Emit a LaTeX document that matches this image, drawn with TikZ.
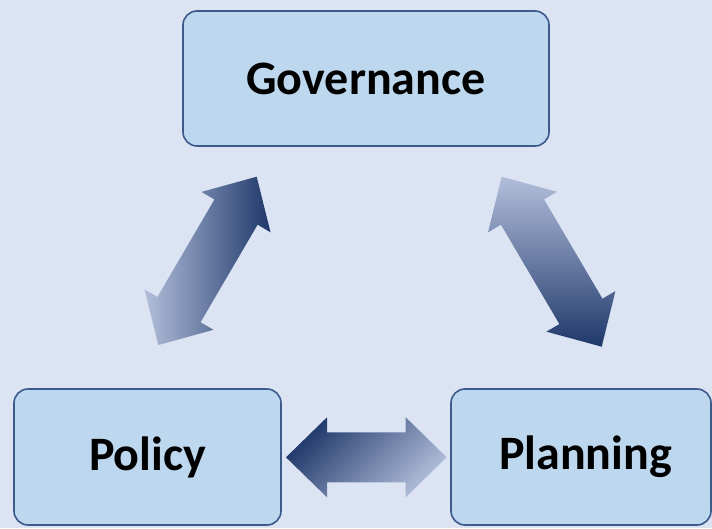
\documentclass[tikz,border=0pt]{standalone}
\usepackage{fontspec}
\setmainfont{Carlito}
\usetikzlibrary{calc}
\definecolor{bgc}{RGB}{220,228,244}
\definecolor{boxfill}{RGB}{189,215,238}
\definecolor{boxline}{RGB}{60,90,140}
\definecolor{arrdark}{RGB}{31,56,106}
\definecolor{arrlight}{RGB}{178,190,218}
\tikzset{
  stagebox/.style={draw=boxline, line width=1.6pt, fill=boxfill, rounded corners=14pt,
    inner sep=0pt, font=\fontsize{48}{56}\selectfont\bfseries, text=black},
}
\newcommand{\dblarrow}[3]{%
  \shade[#3] (#1)
    -- ($(#1)!41pt!(#2)!40pt!90:(#2)$)
    -- ($(#1)!41pt!(#2)!25pt!90:(#2)$)
    -- ($(#2)!41pt!(#1)!25pt!-90:(#1)$)
    -- ($(#2)!41pt!(#1)!40pt!-90:(#1)$)
    -- (#2)
    -- ($(#2)!41pt!(#1)!40pt!90:(#1)$)
    -- ($(#2)!41pt!(#1)!25pt!90:(#1)$)
    -- ($(#1)!41pt!(#2)!25pt!-90:(#2)$)
    -- ($(#1)!41pt!(#2)!40pt!-90:(#2)$)
    -- cycle;}
\begin{document}
\begin{tikzpicture}[x=1pt,y=-1pt]
  \fill[bgc] (0,0) rectangle (712,528);
  \useasboundingbox (0,0) rectangle (712,528);
  \node[stagebox, minimum width=366pt, minimum height=135pt] (gov) at (366,78.5) {Governance};
  \node[stagebox, minimum width=267pt, minimum height=136pt] (pol) at (147.5,457) {Policy};
  \node[stagebox, minimum width=260pt, minimum height=136pt] (pla) at (581,457) {\hspace*{9pt}Planning};
  \coordinate (l1) at (256.7,176.7);
  \coordinate (l2) at (158.3,345);
  \coordinate (r1) at (501.7,176.7);
  \coordinate (r2) at (601.7,346.7);
  \coordinate (h1) at (286,457.3);
  \coordinate (h2) at (446.7,457.3);
  \dblarrow{l1}{l2}{left color=arrlight, right color=arrdark}
  \dblarrow{r1}{r2}{top color=arrlight, bottom color=arrdark}
  \dblarrow{h1}{h2}{top color=arrdark, bottom color=arrlight, shading angle=45}
\end{tikzpicture}
\end{document}
